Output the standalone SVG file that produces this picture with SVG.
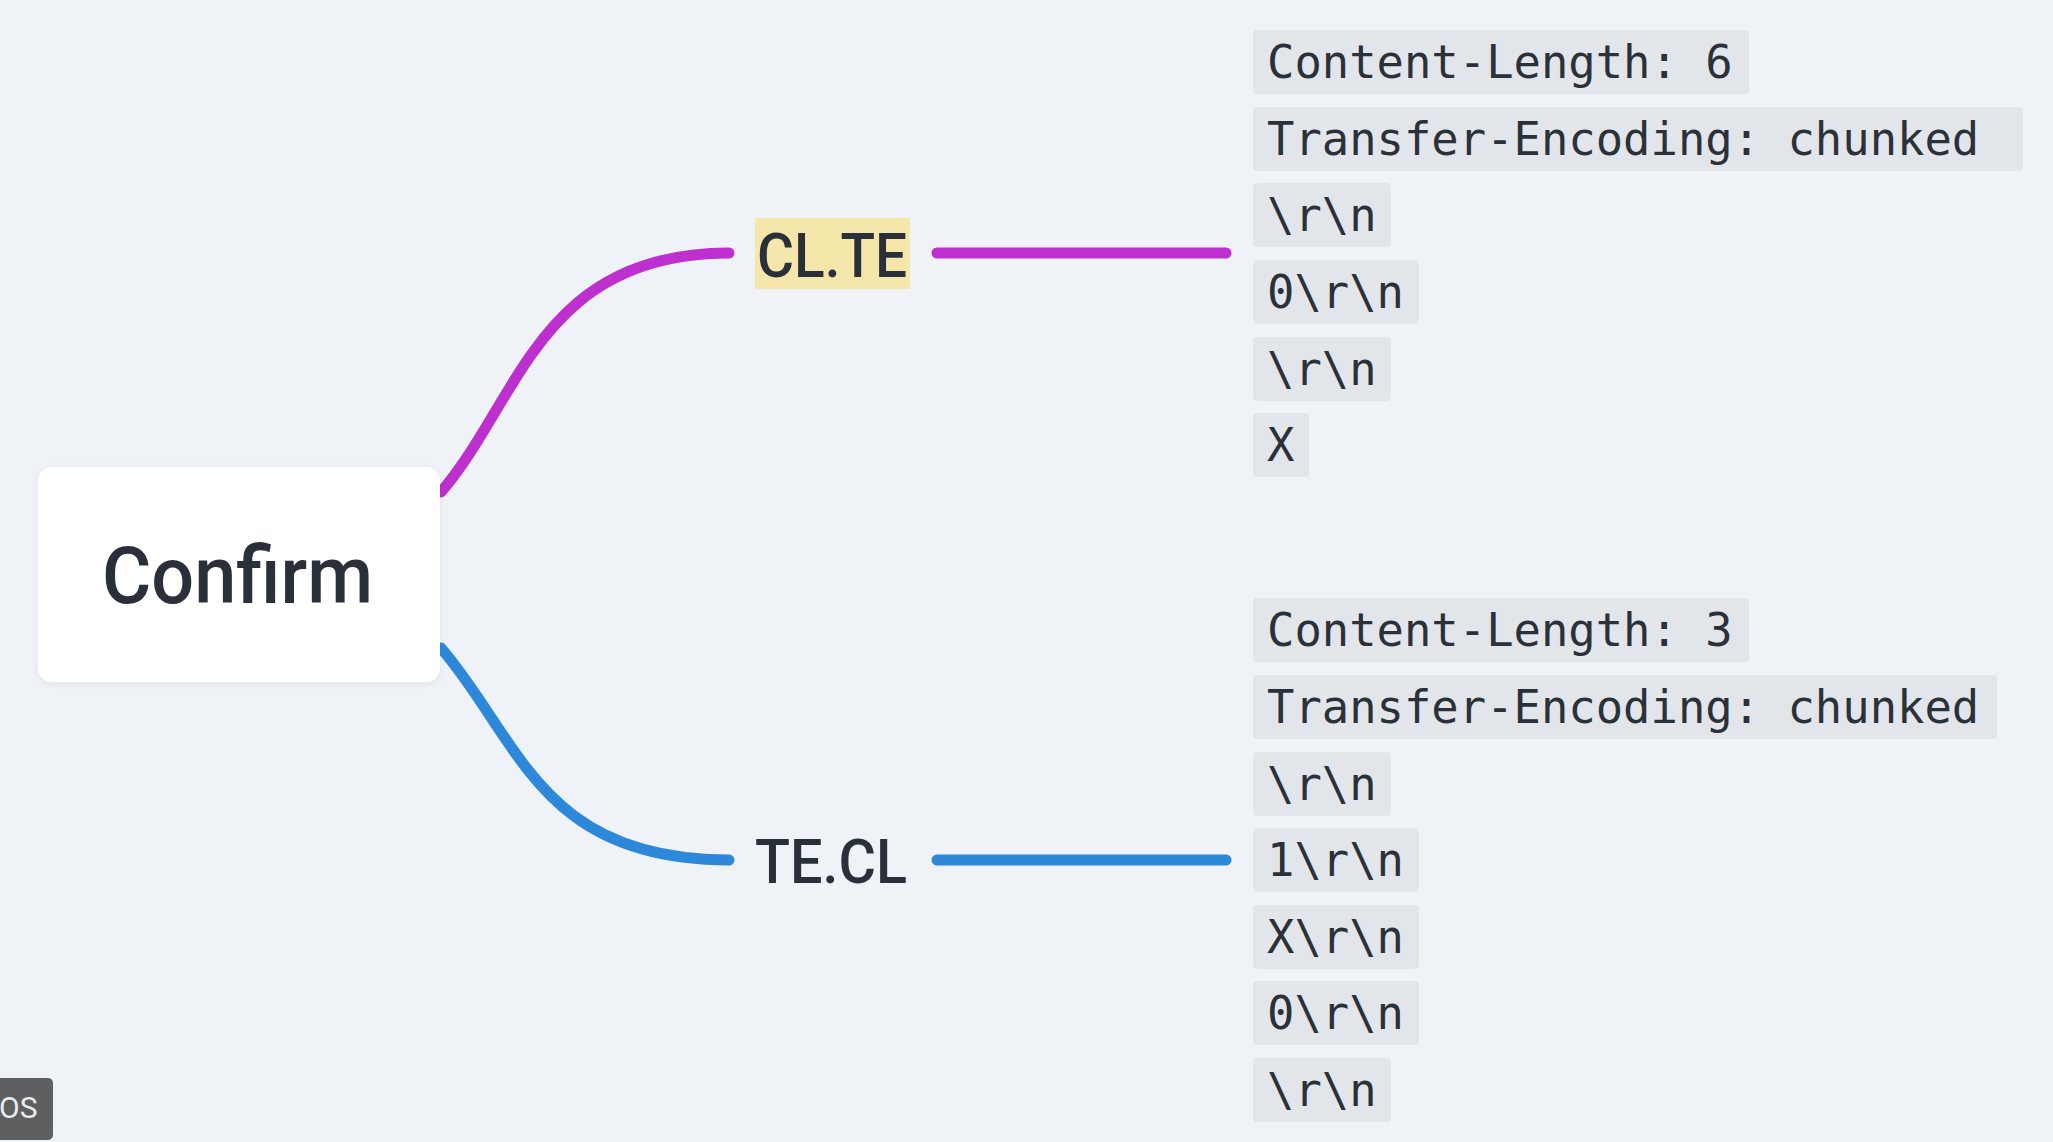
<svg xmlns="http://www.w3.org/2000/svg" width="2053" height="1142" viewBox="0 0 2053 1142">
  <style>
    .bg { fill: #EFF2F7; }
    .root-box { fill: #FFFFFF; }
    .root-text { font-family: Roboto, "Liberation Sans", sans-serif; font-size: 79px; font-weight: 500; fill: #2A3039; }
    .label { font-family: Roboto, "Liberation Sans", sans-serif; font-size: 62px; font-weight: 500; fill: #2A3039; }
    .hl { fill: #F5E6AA; }
    .code-box { fill: #E2E6EB; }
    .code { font-family: "DejaVu Sans Mono", "Liberation Mono", monospace; font-size: 45.5px; fill: #2B3139; }
    .conn { fill: none; stroke-width: 11; stroke-linecap: round; }
    .magenta { stroke: #BE2FCF; }
    .blue { stroke: #2E88DA; }
    .tag { fill: #5E5F61; }
    .tag-text { font-family: Roboto, "Liberation Sans", sans-serif; font-size: 30px; fill: #ECECEC; }
  </style>
  <defs>
    <filter id="shadow" x="-10%" y="-10%" width="120%" height="130%">
      <feDropShadow dx="0" dy="2" stdDeviation="4" flood-color="#000" flood-opacity="0.06"/>
    </filter>
  </defs>

  <rect class="bg" x="0" y="0" width="2053" height="1142"/>

  <g id="connectors">
    <path class="conn magenta" d="M441,492 C520,400 540,253 729,253"/>
    <path class="conn magenta" d="M937,253 L1226,253"/>
    <path class="conn blue" d="M441,648 C520,740 540,860 729,860"/>
    <path class="conn blue" d="M937,860 L1226,860"/>
  </g>

  <g id="node-confirm">
    <rect class="root-box" x="38" y="467" width="402" height="215" rx="14" filter="url(#shadow)"/>
    <text class="root-text" x="102" y="603" textLength="271" lengthAdjust="spacingAndGlyphs">Confirm</text>
  </g>

  <g id="node-clte">
    <rect class="hl" x="755" y="218" width="155" height="71"/>
    <text class="label" x="757" y="277" textLength="150" lengthAdjust="spacingAndGlyphs">CL.TE</text>
  </g>

  <g id="node-tecl">
    <text class="label" x="755" y="883" textLength="152" lengthAdjust="spacingAndGlyphs">TE.CL</text>
  </g>

  <g id="node-clte-body">
    <rect class="code-box" x="1253" y="30" width="496" height="64" rx="4"/>
    <text class="code" x="1267" y="78">Content-Length: 6</text>
    <rect class="code-box" x="1253" y="107" width="770" height="64" rx="4"/>
    <text class="code" x="1267" y="155">Transfer-Encoding: chunked</text>
    <rect class="code-box" x="1253" y="183" width="138" height="64" rx="4"/>
    <text class="code" x="1267" y="231">\r\n</text>
    <rect class="code-box" x="1253" y="260" width="166" height="64" rx="4"/>
    <text class="code" x="1267" y="308">0\r\n</text>
    <rect class="code-box" x="1253" y="337" width="138" height="64" rx="4"/>
    <text class="code" x="1267" y="385">\r\n</text>
    <rect class="code-box" x="1253" y="413" width="56" height="64" rx="4"/>
    <text class="code" x="1267" y="461">X</text>
  </g>

  <g id="node-tecl-body">
    <rect class="code-box" x="1253" y="598" width="496" height="64" rx="4"/>
    <text class="code" x="1267" y="646">Content-Length: 3</text>
    <rect class="code-box" x="1253" y="675" width="744" height="64" rx="4"/>
    <text class="code" x="1267" y="723">Transfer-Encoding: chunked</text>
    <rect class="code-box" x="1253" y="752" width="138" height="64" rx="4"/>
    <text class="code" x="1267" y="800">\r\n</text>
    <rect class="code-box" x="1253" y="828" width="166" height="64" rx="4"/>
    <text class="code" x="1267" y="876">1\r\n</text>
    <rect class="code-box" x="1253" y="905" width="166" height="64" rx="4"/>
    <text class="code" x="1267" y="953">X\r\n</text>
    <rect class="code-box" x="1253" y="981" width="166" height="64" rx="4"/>
    <text class="code" x="1267" y="1029">0\r\n</text>
    <rect class="code-box" x="1253" y="1058" width="138" height="64" rx="4"/>
    <text class="code" x="1267" y="1106">\r\n</text>
  </g>

  <g id="tag-os">
    <rect class="tag" x="-8" y="1078" width="61" height="62" rx="5"/>
    <text class="tag-text" x="-1" y="1118">OS</text>
  </g>
</svg>
